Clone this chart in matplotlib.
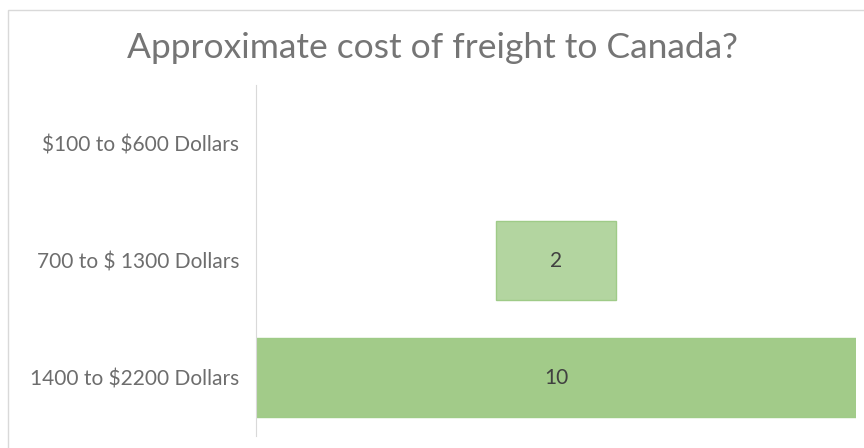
import matplotlib.pyplot as plt
from matplotlib.patches import Rectangle

categories = ["$100 to $600 Dollars", "700 to $ 1300 Dollars", "1400 to $2200 Dollars"]
values = [0, 2, 10]
bar_colors = ["#b3d5a0", "#b3d5a0", "#a2cb89"]

plt.rcParams['font.family'] = ['Lato', 'DejaVu Sans']
plt.rcParams['text.parse_math'] = False

fig = plt.figure(figsize=(8.64, 4.48), dpi=100)
ax = fig.add_axes([256 / 864, 1 - 436 / 448, 600 / 864, 351 / 448])

# rahmen rundt om diagrammet
fig.patches.append(Rectangle((8 / 864, -0.1), 1.0, 1 - 10 / 448 + 0.1, transform=fig.transFigure,
                             fill=False, edgecolor="#d9d9d9", linewidth=1))

# tragt: bjælkerne centreres om midten
center = max(values) / 2
y = list(range(len(categories)))
lefts = [center - v / 2 for v in values]
for i in range(len(values)):
    if values[i] == 0:
        continue
    ax.barh(y[i], values[i], left=lefts[i], height=0.667, color=bar_colors[i],
            edgecolor="#9fcb88", linewidth=1)
    ax.text(center, y[i], str(values[i]), ha='center', va='center', fontsize=15, color="#404040")

ax.set_xlim(0, max(values))
ax.set_ylim(len(categories) - 0.5, -0.5)
ax.set_yticks(y)
ax.set_yticklabels(categories, fontsize=15, color="#6d6d6d")
ax.tick_params(axis='y', length=0, pad=12)
ax.set_xticks([])
for s in ['top', 'right', 'bottom']:
    ax.spines[s].set_visible(False)
ax.spines['left'].set_color("#d9d9d9")

fig.text(0.5, 1 - 48 / 448, "Approximate cost of freight to Canada?", ha='center', va='center',
         fontsize=25.5, color="#757575")

fig.savefig("out.png", dpi=100)
